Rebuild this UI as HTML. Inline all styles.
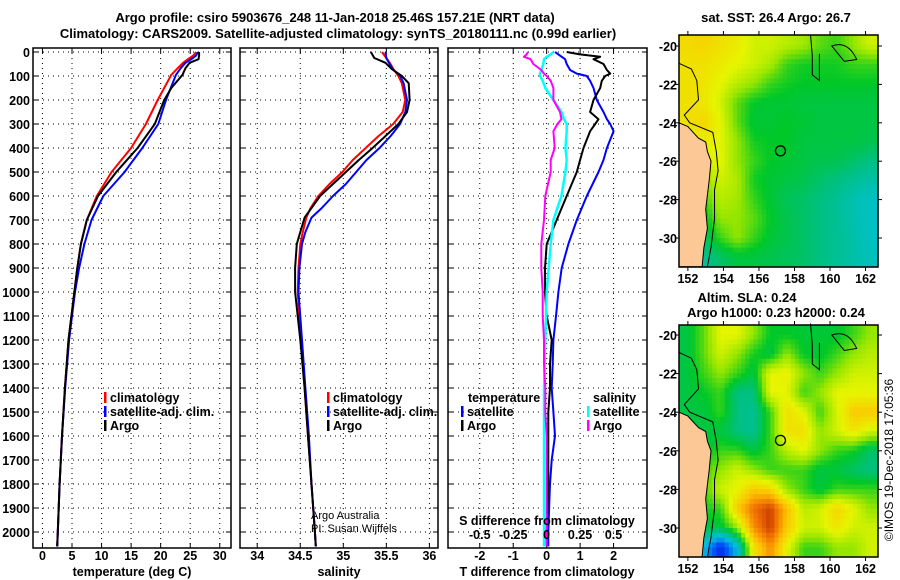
<!DOCTYPE html>
<html><head><meta charset="utf-8"><style>
body{margin:0;background:#fff}
svg{display:block;font-family:"Liberation Sans",sans-serif}
.b{font-weight:bold;font-size:13px}
</style></head><body>
<svg id="c" width="900" height="580" viewBox="0 0 900 580">
<text x="335" y="22" text-anchor="middle" class="b">Argo profile: csiro 5903676_248 11-Jan-2018 25.46S 157.21E (NRT data)</text>
<text x="338" y="38" text-anchor="middle" class="b">Climatology: CARS2009. Satellite-adjusted climatology: synTS_20180111.nc (0.99d earlier)</text>
<text x="776" y="22" text-anchor="middle" class="b">sat. SST: 26.4 Argo: 26.7</text>
<text x="747" y="302" text-anchor="middle" class="b">Altim. SLA: 0.24</text>
<text x="776" y="317" text-anchor="middle" class="b">Argo h1000: 0.23 h2000: 0.24</text>
<text transform="translate(893,460) rotate(-90)" text-anchor="middle" font-size="12">©IMOS 19-Dec-2018 17:05:36</text>
</svg>
<script>
const depthTicks=[0,100,200,300,400,500,600,700,800,900,1000,1100,1200,1300,1400,1500,1600,1700,1800,1900,2000];
const tTicks=[0,5,10,15,20,25,30];
const sTicks=[34,34.5,35,35.5,36];
const dTTicks=[-2,-1,0,1,2];
const dSTicks=[-0.5,-0.25,0,0.25,0.5];
const dSTickLabels=["-0.5","-0.25","0","0.25","0.5"];
// temperature profiles (depth, T)
const tDepth=[0,15,30,45,67,95,150,200,300,400,500,600,700,800,900,1000,1100,1200,1400,1600,1800,2000,2060];
const tArgo=[26.5,26.5,26.4,24.9,24.2,23.7,21.8,20.6,19.0,16.1,12.5,9.4,7.5,6.5,5.9,5.4,4.9,4.4,3.8,3.3,2.9,2.6,2.5];
const tClim=[26,25.5,24.6,23.8,22.9,21.8,20.6,19.5,17.5,15,11.7,9.2,7.5,6.5,5.9,5.4,4.9,4.4,3.8,3.3,2.9,2.6,2.5];
const tSat=[26.3,26.0,25.2,24.2,23.4,22.6,21.7,20.9,19.6,16.9,13.9,10.3,8.3,7.1,6.2,5.5,5.0,4.5,3.85,3.3,2.9,2.6,2.5];
// salinity profiles
const sDepth=[0,25,45,70,100,130,200,250,300,350,400,450,500,550,600,650,690,750,800,900,1000,1200,1400,1600,1800,2000,2060];
const sArgo=[35.32,35.36,35.49,35.56,35.68,35.76,35.77,35.74,35.64,35.49,35.34,35.18,35.03,34.88,34.73,34.63,34.55,34.5,34.46,34.44,34.44,34.5,34.55,34.59,34.63,34.67,34.68];
const sClim=[35.45,35.5,35.54,35.58,35.64,35.68,35.72,35.69,35.58,35.41,35.26,35.11,34.99,34.84,34.71,34.62,34.57,34.53,34.5,34.48,34.47,34.51,34.55,34.59,34.63,34.67,34.68];
const sSat=[35.49,35.5,35.53,35.57,35.66,35.7,35.74,35.72,35.66,35.55,35.42,35.27,35.15,35.03,34.88,34.75,34.63,34.56,34.52,34.49,34.48,34.52,34.56,34.6,34.63,34.67,34.68];
// differences
const dDepth=[0,10,20,30,50,75,90,100,120,150,200,250,280,300,330,400,450,500,600,700,800,900,1000,1100,1200,1300,1400,1500,1600,1700,1800,2000,2060];
const dTSat=[0.25,0.35,0.45,0.55,0.6,0.7,0.9,1.2,1.3,1.4,1.5,1.7,1.8,1.9,2.0,1.8,1.7,1.55,1.2,0.9,0.65,0.45,0.35,0.28,0.2,0.18,0.15,0.2,0.25,0.15,0.1,0.05,0.05];
const dTArgo=[0.6,1.0,1.6,1.4,1.7,1.8,1.9,1.75,1.65,1.6,1.4,1.3,1.55,1.45,1.3,1.1,1.0,0.9,0.6,0.3,0.0,-0.05,-0.05,0.0,0.15,0.1,0.1,0.05,0.05,0.05,0.05,0.0,0.0];
const dSSat=[0.05,0.03,0.0,-0.02,-0.025,-0.04,-0.05,-0.05,-0.03,-0.01,0.05,0.11,0.13,0.15,0.15,0.14,0.15,0.14,0.11,0.05,0.03,0.015,0.0,-0.005,-0.01,-0.015,-0.02,-0.02,-0.02,-0.02,-0.02,-0.02,-0.02];
const dSArgo=[-0.14,-0.15,-0.17,-0.12,-0.1,-0.04,-0.02,0.0,0.03,0.05,0.05,0.1,0.11,0.08,0.05,0.06,0.03,0.03,-0.01,-0.02,-0.04,-0.04,-0.03,-0.03,-0.02,-0.02,-0.01,-0.01,0.0,0.0,0.0,0.0,0.0];
// maps
const lonTicks=[152,154,156,158,160,162];
const latTicks=[-20,-22,-24,-26,-28,-30];
const sstGrid=[
[.67,.68,.66,.64,.6,.6,.58,.56,.52,.5,.55,.6],
[.66,.66,.64,.62,.6,.57,.5,.48,.48,.48,.5,.5],
[.66,.65,.62,.58,.55,.5,.48,.47,.47,.47,.47,.47],
[.66,.65,.6,.52,.47,.46,.46,.45,.45,.45,.45,.45],
[.66,.68,.62,.52,.46,.46,.47,.46,.45,.45,.45,.45],
[.6,.64,.62,.55,.48,.47,.47,.45,.45,.45,.45,.44],
[.6,.6,.62,.55,.5,.47,.46,.45,.44,.44,.42,.4],
[.55,.55,.6,.57,.48,.46,.45,.44,.42,.4,.38,.36],
[.5,.5,.58,.56,.5,.46,.43,.42,.4,.38,.35,.33],
[.45,.45,.55,.55,.52,.47,.44,.42,.4,.38,.35,.33],
[.4,.42,.5,.55,.5,.46,.44,.42,.4,.38,.36,.33],
[.3,.38,.42,.45,.45,.44,.43,.42,.4,.38,.36,.34]];
const slaGrid=[
[.45,.52,.62,.62,.55,.47,.47,.46,.46,.46,.5,.55],
[.45,.52,.6,.55,.48,.45,.55,.47,.46,.5,.55,.58],
[.45,.5,.55,.5,.45,.62,.63,.55,.5,.55,.6,.6],
[.45,.47,.5,.4,.4,.62,.62,.5,.55,.62,.62,.62],
[.45,.45,.5,.4,.38,.5,.66,.62,.5,.6,.7,.7],
[.45,.45,.45,.4,.38,.5,.66,.66,.55,.6,.65,.6],
[.45,.45,.5,.5,.45,.5,.58,.62,.55,.5,.48,.42],
[.45,.5,.55,.6,.55,.5,.5,.5,.45,.45,.42,.4],
[.45,.5,.6,.62,.7,.68,.55,.5,.45,.5,.5,.5],
[.45,.48,.5,.7,.82,.88,.72,.58,.6,.68,.62,.55],
[.45,.45,.45,.55,.78,.88,.7,.6,.6,.65,.6,.6],
[.45,.3,.1,.3,.65,.78,.62,.5,.5,.55,.55,.6]];
const landLon=[151.5,152.0,152.6,153.0,153.1,153.3,153.2,153.0,153.1,152.9,152.8,151.5];
const landLat=[-24.0,-24.2,-24.8,-25.0,-25.5,-26,-27,-28.5,-29.5,-30.5,-31.5,-31.5];
const argoLon=157.21, argoLat=-25.46;

const NS='http://www.w3.org/2000/svg';
const svg=document.getElementById('c');
function mk(tag,at,parent){const e=document.createElementNS(NS,tag);for(const k in at)e.setAttribute(k,at[k]);(parent||svg).appendChild(e);return e;}
const yTop=52,pxPer=0.24,pTop=48,pBot=548;
function yD(d){return yTop+d*pxPer;}

function panel(name,x0,x1,vmin,vmax,grid){
  const sx=v=>x0+(v-vmin)/(vmax-vmin)*(x1-x0);
  const g=mk('g',{});
  
  
  for(const d of depthTicks){const l=mk('line',{x1:x0,x2:x1,y1:yD(d),y2:yD(d),stroke:'#000','stroke-width':1,'stroke-dasharray':'1,4'},g);
    
    
    mk('line',{x1:x0,x2:x0+5,y1:yD(d),y2:yD(d),stroke:'#000'},g);mk('line',{x1:x1-5,x2:x1,y1:yD(d),y2:yD(d),stroke:'#000'},g);}
  for(const v of grid){const l=mk('line',{x1:sx(v),x2:sx(v),y1:pTop,y2:pBot,stroke:'#000','stroke-width':1,'stroke-dasharray':'1,4'},g);
    
    
    mk('line',{x1:sx(v),x2:sx(v),y1:pBot-5,y2:pBot,stroke:'#000'},g);mk('line',{x1:sx(v),x2:sx(v),y1:pTop,y2:pTop+5,stroke:'#000'},g);}
  const r=mk('rect',{x:x0,y:pTop,width:x1-x0,height:pBot-pTop,fill:'none',stroke:'#000','stroke-width':1.5},g);
  
  
  return sx;
}
function line(sx,vals,depths,color,name,w){
  let d='';vals.forEach((v,i)=>{d+=(i?'L':'M')+sx(v).toFixed(1)+','+yD(depths[i]).toFixed(1);});
  const p=mk('path',{d:d,fill:'none',stroke:color,'stroke-width':w||2,'stroke-linejoin':'round'});
  
  
}
function txt(x,y,s,o){const t=mk('text',Object.assign({x:x,y:y,'font-weight':'bold','font-size':12.5},o||{}));t.textContent=s;return t;}

// Panel 1 temperature
const sx1=panel('temperature-panel',33,231,-1.6,31.9,tTicks);
depthTicks.forEach(d=>{const t=txt(30,yD(d)+5,String(d),{'text-anchor':'end'});});
tTicks.forEach(v=>{const t=txt(sx1(v),560,String(v),{'text-anchor':'middle'});});
{const t=txt(132,576,'temperature (deg C)',{'text-anchor':'middle'});}
line(sx1,tClim,tDepth,'#f00','temperature-climatology-line');
line(sx1,tSat,tDepth,'#00f','temperature-satellite-line');
line(sx1,tArgo,tDepth,'#000','temperature-argo-line');

// Panel 2 salinity
const sx2=panel('salinity-panel',240,438,33.8,36.1,sTicks);
sTicks.forEach(v=>{const t=txt(sx2(v),560,String(v),{'text-anchor':'middle'});});
{const t=txt(339,576,'salinity',{'text-anchor':'middle'});}
line(sx2,sClim,sDepth,'#f00','salinity-climatology-line');
line(sx2,sSat,sDepth,'#00f','salinity-satellite-line');
line(sx2,sArgo,sDepth,'#000','salinity-argo-line');
{const t=mk('text',{x:311,y:519,'font-size':11});t.textContent='Argo Australia';
 const u=mk('text',{x:311,y:532,'font-size':11});u.textContent='PI: Susan Wijffels';}

// Panel 3 differences
const sx3=panel('difference-panel',448,647,-2.95,3.0,dTTicks);
const sxS=v=>sx3(v*4);
dTTicks.forEach(v=>{const t=txt(sx3(v),560,String(v),{'text-anchor':'middle'});});
{const t=txt(547,576,'T difference from climatology',{'text-anchor':'middle'});}
line(sx3,dTSat,dDepth,'#00f','t-diff-satellite-line');
line(sx3,dTArgo,dDepth,'#000','t-diff-argo-line');
line(sxS,dSSat,dDepth,'#0ff','s-diff-satellite-line',2.5);
line(sxS,dSArgo,dDepth,'#f0f','s-diff-argo-line');
{const t=txt(547,525,'S difference from climatology',{'text-anchor':'middle'});}
dSTicks.forEach((v,i)=>{const t=txt(sxS(v),539,dSTickLabels[i],{'text-anchor':'middle'});});

// legends
function legend(x,y,color,label,name,w){
  const g=mk('g',{});
  
  
  mk('rect',{x:x,y:y-10,width:w||2.5,height:11,fill:color},g);
  const t=mk('text',{x:x+6,y:y,'font-weight':'bold','font-size':12.5},g);t.textContent=label;
}
legend(104,402,'#f00','climatology','legend-temp-climatology');
legend(104,416,'#00f','satellite-adj. clim.','legend-temp-satellite');
legend(104,430,'#000','Argo','legend-temp-argo');
legend(327,402,'#f00','climatology','legend-sal-climatology');
legend(327,416,'#00f','satellite-adj. clim.','legend-sal-satellite');
legend(327,430,'#000','Argo','legend-sal-argo');
{const t=txt(468,402,'temperature');
 const u=txt(593,402,'salinity');}
legend(461,416,'#00f','satellite','legend-t-diff-satellite');
legend(461,430,'#000','Argo','legend-t-diff-argo');
legend(587,416,'#0ff','satellite','legend-s-diff-satellite');
legend(587,430,'#f0f','Argo','legend-s-diff-argo');

// colormap
const cStops=[[0,[0,16,150]],[0.15,[0,64,255]],[0.3,[0,192,224]],[0.4,[0,192,128]],[0.47,[0,200,40]],[0.55,[150,230,0]],[0.62,[230,245,0]],[0.72,[255,192,0]],[0.82,[240,112,0]],[0.9,[192,48,0]],[1,[128,0,0]]];
function cmap(v){for(let i=1;i<cStops.length;i++){if(v<=cStops[i][0]){const a=cStops[i-1],b=cStops[i],f=(v-a[0])/(b[0]-a[0]);const c=a[1].map((x,k)=>Math.round(x+(b[1][k]-x)*f));return 'rgb('+c.join(',')+')';}}return 'rgb(128,0,0)';}
function sample(gr,r,c){const R=gr.length,C=gr[0].length;r=Math.max(0,Math.min(R-1,r));c=Math.max(0,Math.min(C-1,c));
  const r0=Math.floor(r),c0=Math.floor(c),r1=Math.min(R-1,r0+1),c1=Math.min(C-1,c0+1),fr=r-r0,fc=c-c0;
  return gr[r0][c0]*(1-fr)*(1-fc)+gr[r0][c1]*(1-fr)*fc+gr[r1][c0]*fr*(1-fc)+gr[r1][c1]*fr*fc;}

function mapPanel(name,gridVals,top,bot,lat20y,lat30y){
  const x0=679,x1=878,lon0=151.5,lon1=162.7;
  const mx=l=>x0+(l-lon0)/(lon1-lon0)*(x1-x0);
  const my=la=>lat20y+(la+20)/(-10)*(lat30y-lat20y);
  const latTop=-20+(top-lat20y)/(lat30y-lat20y)*-10, latBot=-20+(bot-lat20y)/(lat30y-lat20y)*-10;
  const g=mk('g',{});
  
  
  const rows=gridVals.length,cols=gridVals[0].length,F=4;
  const cw=(lon1-lon0)/(cols*F),ch=(latTop-latBot)/(rows*F);
  for(let r=0;r<rows*F;r++)for(let c=0;c<cols*F;c++){
    const v=sample(gridVals,(r+0.5)/F-0.5,(c+0.5)/F-0.5);
    const xa=mx(lon0+c*cw),xb=mx(lon0+(c+1)*cw),ya=my(latTop-r*ch),yb=my(latTop-(r+1)*ch);
    const cell=mk('rect',{x:xa.toFixed(1),y:ya.toFixed(1),width:(xb-xa+0.6).toFixed(1),height:(yb-ya+0.6).toFixed(1),fill:cmap(v)},g);
    
    
  }
  let d='';landLon.forEach((l,i)=>{d+=(i?'L':'M')+mx(l).toFixed(1)+','+Math.min(bot,my(landLat[i])).toFixed(1);});
  const land=mk('path',{d:d+'Z',fill:'#fbc896',stroke:'#000','stroke-width':1},g);
  
  
  const cLon=[151.5,152.2,152.5,152.6,151.8,152.1,153.4,153.6,153.7,153.5,153.5,153.3,153.1];
  const cLat=[-20.9,-21.2,-21.8,-22.8,-23.6,-24.0,-24.5,-25.5,-26.5,-27.5,-29,-30.5,-31.5];
  let cd='';cLon.forEach((l,i)=>{cd+=(i?'L':'M')+mx(l).toFixed(1)+','+my(cLat[i]).toFixed(1);});
  mk('path',{d:cd,fill:'none',stroke:'#000','stroke-width':1},g);
  const rLon=[158.9,159.0,159.0,159.4,159.4];const rLat=[-19.4,-20.5,-21.5,-21.8,-20.4];
  let rd='';rLon.forEach((l,i)=>{rd+=(i?'L':'M')+mx(l).toFixed(1)+','+my(rLat[i]).toFixed(1);});
  mk('path',{d:rd,fill:'none',stroke:'#000','stroke-width':1},g);
  mk('path',{d:'M'+mx(160.1)+','+my(-20)+'Q'+mx(161)+','+my(-19.7)+' '+mx(161.5)+','+my(-20.7)+'L'+mx(160.8)+','+my(-20.8)+'Z',fill:'none',stroke:'#000'},g);
  const dot=mk('circle',{cx:mx(argoLon),cy:my(argoLat),r:5,fill:'none',stroke:'#000','stroke-width':1.3},g);
  
  
  const fr=mk('rect',{x:x0,y:top,width:x1-x0,height:bot-top,fill:'none',stroke:'#000','stroke-width':1.5},g);
  
  
  latTicks.forEach(la=>{const y=my(la);mk('line',{x1:x0-4,x2:x0,y1:y,y2:y,stroke:'#000'},g);mk('line',{x1:x1,x2:x1+4,y1:y,y2:y,stroke:'#000'},g);
    const t=mk('text',{x:677,y:y+5,'text-anchor':'end','font-weight':'bold','font-size':12.5},g);t.textContent=String(la);
    
    });
  lonTicks.forEach(lo=>{const x=mx(lo);mk('line',{x1:x,x2:x,y1:top-4,y2:top,stroke:'#000'},g);mk('line',{x1:x,x2:x,y1:bot,y2:bot+4,stroke:'#000'},g);
    const t=mk('text',{x:x,y:bot+16,'text-anchor':'middle','font-weight':'bold','font-size':12.5},g);t.textContent=String(lo);
    
    });
}
mapPanel('sst-map',sstGrid,35,267,46,238);
mapPanel('sla-map',slaGrid,325,557,335,528);
</script>
</body></html>
